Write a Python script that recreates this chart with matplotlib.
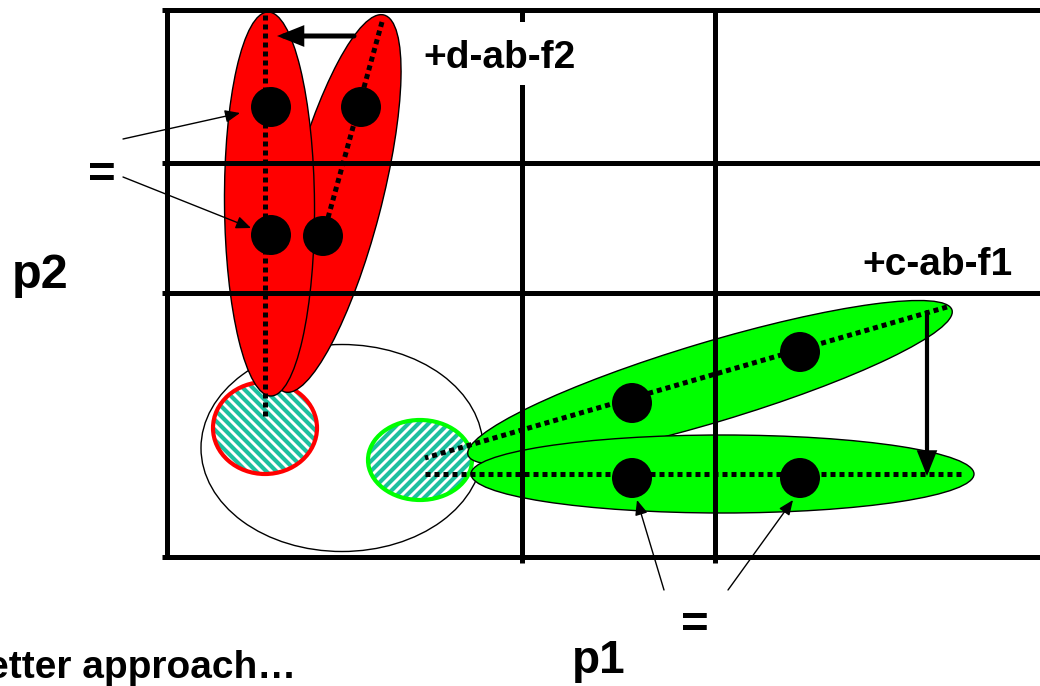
import numpy as np
import matplotlib
matplotlib.use("Agg")
import matplotlib.pyplot as plt
from matplotlib.patches import Ellipse, Rectangle, FancyArrowPatch, ArrowStyle

# ---------------- data (pixel-space diagram geometry) ----------------
FIG_W, FIG_H = 1040, 686

grid_h_y = [10, 163, 293, 557]          # horizontal grid lines
grid_h_x = [162, 1040]
grid_v_x = [167, 522, 715]              # vertical grid lines
grid_v_bottom = [557, 563, 563]
grid_top = 10

# ellipses given by the two ends of the long axis and the short-axis length
red_right_axis = [(384, 15), (285, 392)]
red_right_minor = 92
red_left_axis = [(268, 12), (271, 396)]
red_left_minor = 90
green_upper_axis = [(468, 455), (952, 310)]
green_upper_minor = 80
green_lower_axis = [(471, 474), (974, 474)]
green_lower_minor = 78

big_ellipse = (342, 448, 282, 207)      # cx, cy, w, h
red_circle = (265, 428, 104, 92)
green_circle = (420, 460, 104, 80)

dotted_lines = [
    [(265, 15), (265, 420)],
    [(382, 22), (323, 236)],
    [(947, 307), (425, 458)],
    [(425, 474), (962, 474)],
]

dots_x = [271, 271, 361, 323, 632, 800, 632, 800]
dots_y = [107, 235, 107, 236, 403, 352, 478, 478]
dot_radius = 20

thick_arrows = [((354, 36), (277, 36), 3.6), ((927, 312), (927, 476), 3.0)]
thin_arrows = [((123, 139), (240, 113)), ((123, 177), (251, 228)),
               ((664, 590), (637, 500)), ((728, 590), (793, 500))]

labels = [
    ("+d-ab-f2", 423, 68, 28, "left"),
    ("+c-ab-f1", 862, 275, 28, "left"),
    ("p2", 12, 288, 35, "left"),
    ("p1", 572, 673, 33, "left"),
    ("=", 102, 188, 34, "center"),
    ("=", 695, 638, 34, "center"),
    ("Better approach…", 296, 678, 28, "right"),
]

RED = "#FF0000"
GREEN = "#00FF00"
TEAL = "#1DBF9F"

plt.rcParams['font.family'] = ['Liberation Sans', 'DejaVu Sans']

fig = plt.figure(figsize=(FIG_W / 100, FIG_H / 100), dpi=100)
ax = fig.add_axes([0, 0, 1, 1])
ax.set_xlim(0, FIG_W)
ax.set_ylim(FIG_H, 0)
ax.axis('off')


def axis_ellipse(ends, minor, **kw):
    (x1, y1), (x2, y2) = ends
    cx, cy = (x1 + x2) / 2, (y1 + y2) / 2
    length = np.hypot(x2 - x1, y2 - y1)
    ang = np.degrees(np.arctan2(y2 - y1, x2 - x1))
    return Ellipse((cx, cy), length, minor, angle=ang, **kw)


# big white ellipse
cx, cy, w, h = big_ellipse
ax.add_patch(Ellipse((cx, cy), w, h, fc='white', ec='black', lw=1.0, zorder=1))


def hatched(spec, edge, direction, z):
    cx, cy, w, h = spec
    base = Ellipse((cx, cy), w, h, fc='white', ec='none', zorder=z)
    ax.add_patch(base)
    xs = np.array([cx - w, cx + w])
    for c in np.arange(-2 * w, 2 * w, 10.0):
        if direction == 'down':
            ys = cy + (xs - cx) + c
        else:
            ys = cy - (xs - cx) + c
        ln, = ax.plot(xs, ys, color=TEAL, lw=3.0, zorder=z + 0.1,
                      solid_capstyle='butt')
        ln.set_clip_path(base)
    ax.add_patch(Ellipse((cx, cy), w, h, fc='none', ec=edge, lw=3.0,
                         zorder=z + 0.2))


hatched(red_circle, RED, 'down', 2)
hatched(green_circle, GREEN, 'up', 2)

# red ellipses
ax.add_patch(axis_ellipse(red_right_axis, red_right_minor, fc=RED, ec='black',
                          lw=1.0, zorder=3))
ax.add_patch(axis_ellipse(red_left_axis, red_left_minor, fc=RED, ec='black',
                          lw=1.0, zorder=3.1))
# green ellipses
ax.add_patch(axis_ellipse(green_upper_axis, green_upper_minor, fc=GREEN,
                          ec='black', lw=1.0, zorder=3))
ax.add_patch(axis_ellipse(green_lower_axis, green_lower_minor, fc=GREEN,
                          ec='black', lw=1.0, zorder=3.1))

# grid
for y in grid_h_y:
    ax.plot(grid_h_x, [y, y], color='black', lw=3.6, solid_capstyle='butt',
            zorder=4)
for x, yb in zip(grid_v_x, grid_v_bottom):
    ax.plot([x, x], [grid_top - 2, yb], color='black', lw=3.6,
            solid_capstyle='butt', zorder=4)

# white box behind the top label
ax.add_patch(Rectangle((420, 22), 155, 63, fc='white', ec='none', zorder=5))

# dotted lines
for (p, q) in dotted_lines:
    ax.plot([p[0], q[0]], [p[1], q[1]], color='black', lw=3.6,
            linestyle=(0, (1, 0.8)), dash_capstyle='butt', zorder=6)

# dots
for x, y in zip(dots_x, dots_y):
    ax.add_patch(Ellipse((x, y), 2 * dot_radius, 2 * dot_radius, fc='black',
                         ec='none', zorder=7))

# arrows
for a, b, lw in thick_arrows:
    ax.add_patch(FancyArrowPatch(a, b, arrowstyle=ArrowStyle('-|>', head_length=13,
                                 head_width=5.2), mutation_scale=1, lw=lw,
                                 color='black', shrinkA=0, shrinkB=0,
                                 joinstyle='miter', zorder=8))
for a, b in thin_arrows:
    ax.add_patch(FancyArrowPatch(a, b, arrowstyle=ArrowStyle('-|>', head_length=9,
                                 head_width=3.8), mutation_scale=1, lw=1.0,
                                 color='black', shrinkA=0, shrinkB=0, zorder=8))

# text
for s, x, y, fs, ha in labels:
    ax.text(x, y, s, fontsize=fs, fontweight='bold', ha=ha, va='baseline',
            color='black', zorder=9)

fig.savefig("out.png", dpi=100)
